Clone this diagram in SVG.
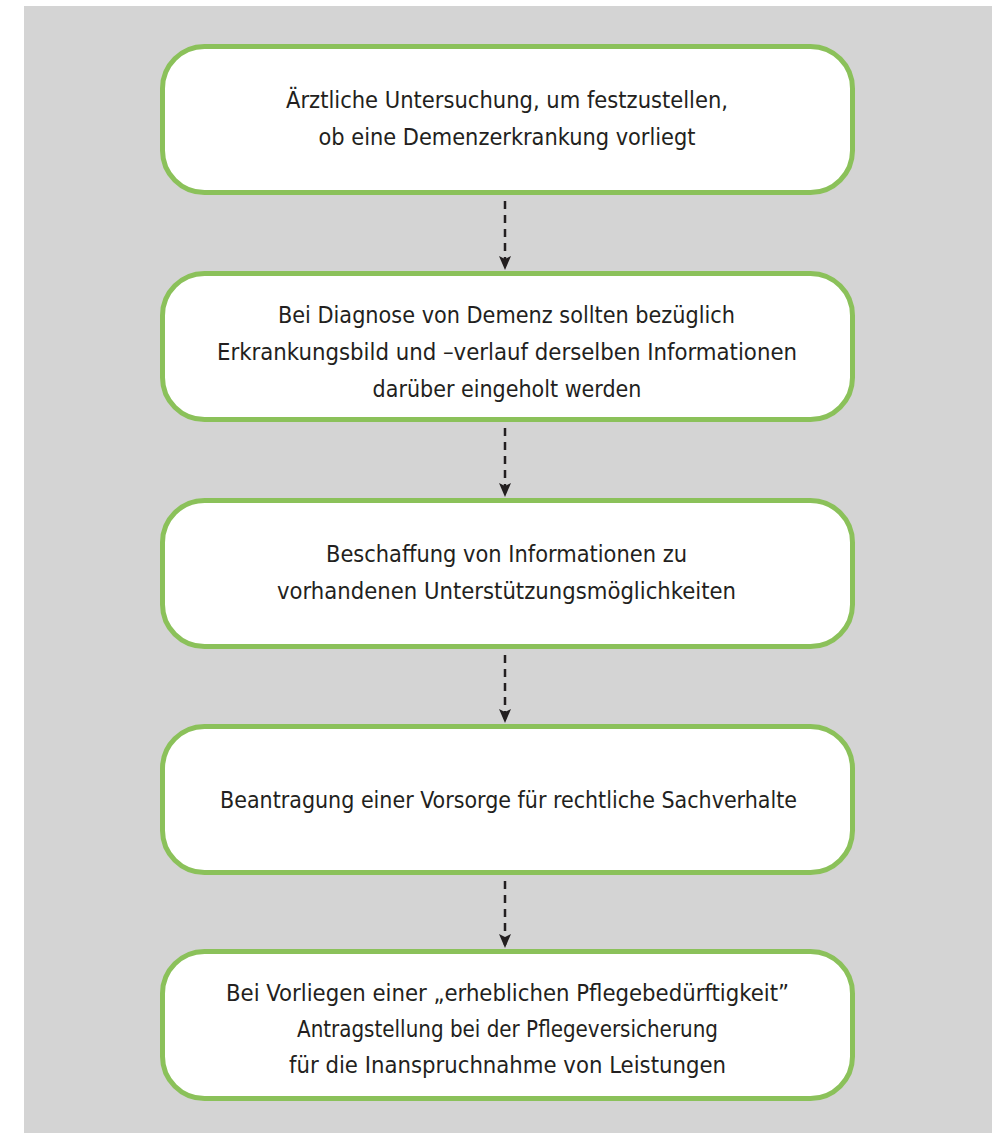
<svg xmlns="http://www.w3.org/2000/svg" width="998" height="1133" viewBox="0 0 998 1133">
<style>
.box{fill:#ffffff;stroke:#8bc15a;stroke-width:5}
.t{font-family:"DejaVu Sans Condensed","DejaVu Sans",sans-serif;font-stretch:condensed;font-size:23px;fill:#231f20;text-anchor:middle}
.con{stroke:#231f20;stroke-width:2.5;stroke-dasharray:8 6;fill:none}
</style>
<defs>
<marker id="ah" viewBox="0 0 14 12" refX="14" refY="6" markerWidth="14" markerHeight="12" markerUnits="userSpaceOnUse" orient="auto">
<path d="M0,0 L14,6 L0,12 L3,6 Z" fill="#231f20"/>
</marker>
</defs>
<rect x="24" y="6" width="968" height="1127" fill="#d4d4d4"/>
<g id="connectors">
<line class="con" x1="505" y1="201" x2="505" y2="270" marker-end="url(#ah)"/>
<line class="con" x1="505" y1="428" x2="505" y2="497" marker-end="url(#ah)"/>
<line class="con" x1="505" y1="655" x2="505" y2="723" marker-end="url(#ah)"/>
<line class="con" x1="505" y1="881" x2="505" y2="948" marker-end="url(#ah)"/>
</g>
<g id="node1">
<rect class="box" x="162.5" y="46.5" width="690" height="146" rx="42"/>
<text class="t" x="507" y="108" textLength="442" lengthAdjust="spacingAndGlyphs">Ärztliche Untersuchung, um festzustellen,</text>
<text class="t" x="507" y="145" textLength="377" lengthAdjust="spacingAndGlyphs">ob eine Demenzerkrankung vorliegt</text>
</g>
<g id="node2">
<rect class="box" x="162.5" y="273.5" width="690" height="146" rx="42"/>
<text class="t" x="506.5" y="323" textLength="457" lengthAdjust="spacingAndGlyphs">Bei Diagnose von Demenz sollten bezüglich</text>
<text class="t" x="507" y="360" textLength="580" lengthAdjust="spacingAndGlyphs">Erkrankungsbild und –verlauf derselben Informationen</text>
<text class="t" x="507" y="397">darüber eingeholt werden</text>
</g>
<g id="node3">
<rect class="box" x="162.5" y="500.5" width="690" height="146" rx="42"/>
<text class="t" x="506.5" y="562" textLength="361" lengthAdjust="spacingAndGlyphs">Beschaffung von Informationen zu</text>
<text class="t" x="506.5" y="599" textLength="459" lengthAdjust="spacingAndGlyphs">vorhandenen Unterstützungsmöglichkeiten</text>
</g>
<g id="node4">
<rect class="box" x="162.5" y="726.5" width="690" height="146" rx="42"/>
<text class="t" x="508.5" y="808" textLength="577" lengthAdjust="spacingAndGlyphs">Beantragung einer Vorsorge für rechtliche Sachverhalte</text>
</g>
<g id="node5">
<rect class="box" x="162.5" y="951.5" width="690" height="147" rx="42"/>
<text class="t" x="507.5" y="1001" textLength="563" lengthAdjust="spacingAndGlyphs">Bei Vorliegen einer „erheblichen Pflegebedürftigkeit”</text>
<text class="t" x="507.5" y="1037" textLength="421" lengthAdjust="spacingAndGlyphs">Antragstellung bei der Pflegeversicherung</text>
<text class="t" x="507.5" y="1073" textLength="437" lengthAdjust="spacingAndGlyphs">für die Inanspruchnahme von Leistungen</text>
</g>
</svg>
